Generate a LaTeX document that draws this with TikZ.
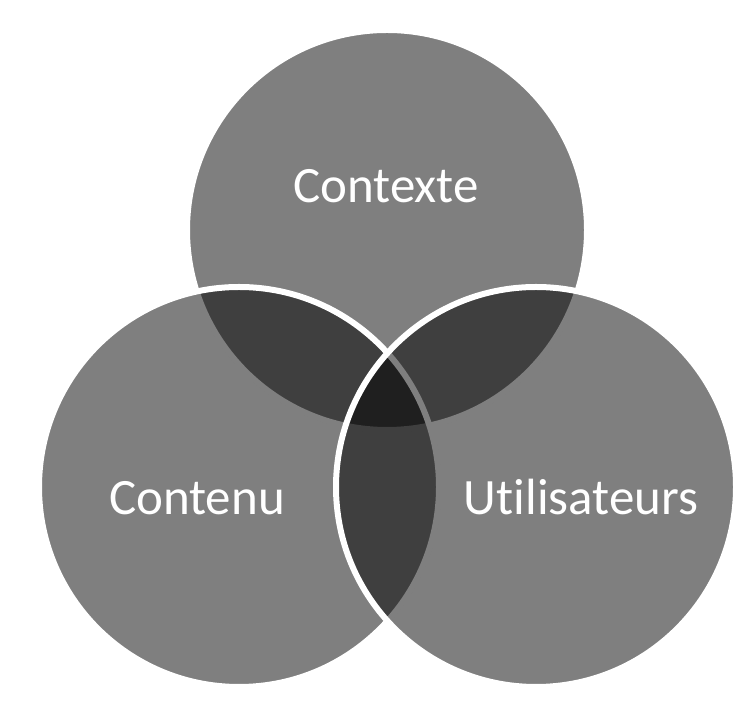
\documentclass[tikz,border=0pt]{standalone}
\usepackage{fontspec}
\setmainfont{Carlito}[Ligatures=NoCommon]
\usetikzlibrary{positioning}

\begin{document}
\begin{tikzpicture}[
    ensemble/.style={fill=black, fill opacity=0.5, draw=white, line width=0.12cm},
    etiquette/.style={text=white, anchor=base, font=\fontsize{29}{35}\selectfont}
  ]
    \useasboundingbox (0,0) rectangle (15.08,14.24);

    % Centres of the three sets
    \coordinate (haut) at (7.74,9.64);
    \coordinate (gauche) at (4.78,4.50);
    \coordinate (droite) at (10.72,4.50);

    % Sets
    \foreach \c in {haut,gauche,droite} {
        \draw [ensemble] (\c) circle (4);
    }

    % Labels
    \node[etiquette] (contexte) at (7.72,10.18) {Contexte};
    \node[etiquette] (contenu) at (3.94,3.94) {Contenu};
    \node[etiquette] (utilisateurs) at (11.62,3.94) {Utilisateurs};
\end{tikzpicture}
\end{document}
